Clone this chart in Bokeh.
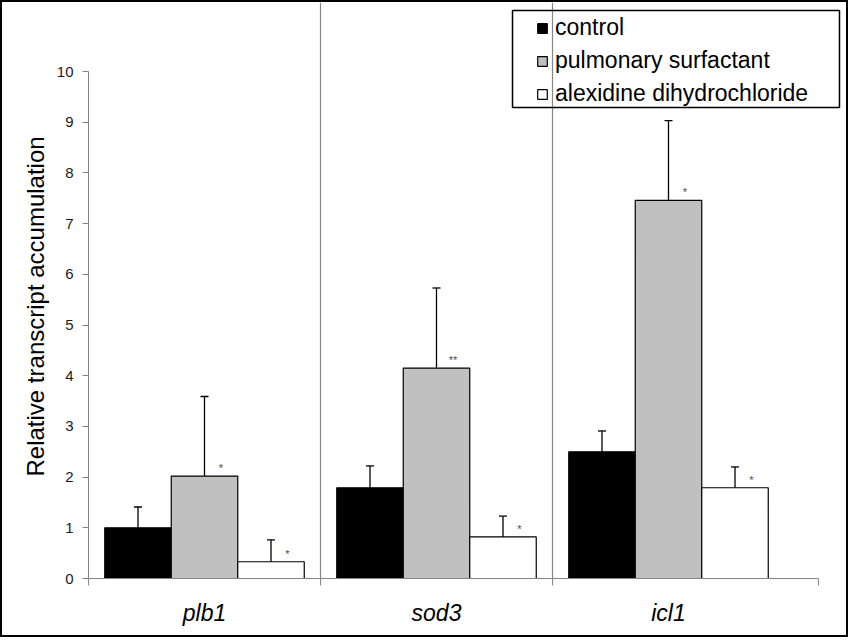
import math
from bokeh.plotting import figure
from bokeh.models import (ColumnDataSource, Range1d, FixedTicker, Whisker, TeeHead,
                          Span, Legend, LegendItem, Title, BoxAnnotation)
from bokeh.core.properties import value
from bokeh.embed import file_html
from bokeh.resources import INLINE

# ---------------- data ----------------
genes = ["plb1", "sod3", "icl1"]
series = ["control", "pulmonary surfactant", "alexidine dihydrochloride"]
control = [1.00, 1.79, 2.50]
control_err = [0.41, 0.43, 0.41]
surfactant = [2.02, 4.15, 7.46]
surfactant_err = [1.57, 1.58, 1.57]
alexidine = [0.33, 0.82, 1.79]
alexidine_err = [0.43, 0.41, 0.41]
surfactant_sig = ["*", "**", "*"]
alexidine_sig = ["*", "*", "*"]
y_ticks = [0, 1, 2, 3, 4, 5, 6, 7, 8, 9, 10]
y_label = "Relative  transcript accumulation"

# ---------------- geometry (page px) ----------------
BORDER = 2
W, H = 852 - 2 * BORDER, 641 - 2 * BORDER     # canvas size
AX_L, AX_B, AX_T, AX_R = 88, 578, 2, 849       # frame edges in page px
SX = 232.0                                      # px per category
SY = 50.7                                       # px per y unit
x_start = -0.5


def xd(px):
    return x_start + (px - AX_L) / SX


def yd(py):
    return (AX_B - py) / SY


x_end = xd(AX_R)
y_end = yd(AX_T)
axis_x_end = xd(818)
bar_w = 66.5 / SX
offsets = [-bar_w, 0.0, bar_w]

FONT = "Liberation Sans"

p = figure(width=W, height=H, x_range=Range1d(x_start, x_end), y_range=Range1d(0, y_end),
           output_backend="svg", toolbar_location=None,
           min_border_left=AX_L - BORDER, min_border_right=(W + BORDER) - AX_R,
           min_border_top=AX_T - BORDER, min_border_bottom=(H + BORDER) - AX_B)
p.styles = {"border": f"{BORDER}px solid #000000"}
p.outline_line_color = None
p.xgrid.grid_line_color = None
p.ygrid.grid_line_color = None
p.background_fill_color = "white"
p.border_fill_color = "white"

# separators between categories
for s in [i + 0.5 for i in range(len(genes) - 1)]:
    p.add_layout(Span(location=s, dimension="height", line_color="#868686", line_width=1.2))

colors = ["#000000", "#C0C0C0", "#FFFFFF"]
vals = [control, surfactant, alexidine]
errs = [control_err, surfactant_err, alexidine_err]
renderers = []
for k in range(3):
    xs = [i + offsets[k] for i in range(len(genes))]
    src = ColumnDataSource(dict(x=xs, top=vals[k], upper=[v + e for v, e in zip(vals[k], errs[k])]))
    r = p.vbar(x="x", top="top", bottom=0, width=bar_w, source=src,
               fill_color=colors[k], line_color="black", line_width=1.2)
    renderers.append(r)
    w = Whisker(base="x", upper="upper", lower="top", dimension="height", source=src,
                upper_head=TeeHead(size=8, line_width=1.3, line_color="black"), lower_head=None,
                line_width=1.3, line_color="black")
    p.add_layout(w)

for k, sig in [(1, surfactant_sig), (2, alexidine_sig)]:
    xs = [i + offsets[k] for i in range(len(genes))]
    p.text(x=xs, y=vals[k], text=sig, x_offset=16.5, y_offset=-8,
           text_font=value(FONT), text_font_size="11px", text_color="#4d4d4d",
           text_align="center", text_baseline="alphabetic")

# y axis
ya = p.yaxis[0]
ya.ticker = FixedTicker(ticks=y_ticks)
ya.bounds = (0, 10)
ya.axis_line_color = "#868686"
ya.major_tick_line_color = "#868686"
ya.major_tick_out = 6
ya.major_tick_in = 0
ya.minor_tick_line_color = None
ya.major_label_text_font = FONT
ya.major_label_text_font_size = "15px"
ya.major_label_text_color = "#1a1a1a"
ya.major_label_standoff = 9

# x axis
xa = p.xaxis[0]
xa.ticker = FixedTicker(ticks=[0, 1, 2], minor_ticks=[x_start, 0.5, 1.5, axis_x_end])
xa.bounds = (x_start, axis_x_end)
xa.axis_line_color = "#868686"
xa.major_tick_line_color = None
xa.major_tick_out = 0
xa.major_tick_in = 0
xa.minor_tick_line_color = "#868686"
xa.minor_tick_out = 7
xa.minor_tick_in = 0
xa.major_label_overrides = {i: g for i, g in enumerate(genes)}
xa.major_label_text_font = FONT
xa.major_label_text_font_size = "23px"
xa.major_label_text_font_style = "italic"
xa.major_label_text_color = "#000000"
xa.major_label_standoff = 14

# y axis title (left side panel), starting 102px above the frame bottom
p.add_layout(Title(text=y_label, align="left", offset=102,
                   text_font=FONT, text_font_size="24px", text_font_style="normal",
                   text_color="#000000"), "left")

# legend
legend = Legend(items=[LegendItem(label=s, renderers=[r]) for s, r in zip(series, renderers)],
                location=(448, 471), padding=0, spacing=6, label_height=23,
                glyph_height=12, glyph_width=12, label_standoff=7,
                border_line_color=None, background_fill_alpha=0,
                label_text_font=FONT, label_text_font_size="23px", label_text_color="#000000")
p.add_layout(legend)
p.add_layout(BoxAnnotation(left=xd(512), right=xd(839), top=yd(10), bottom=yd(107),
                           fill_alpha=0, line_color="black", line_alpha=1.0, line_width=1.5))

open("out.html", "w").write(file_html(p, INLINE))
